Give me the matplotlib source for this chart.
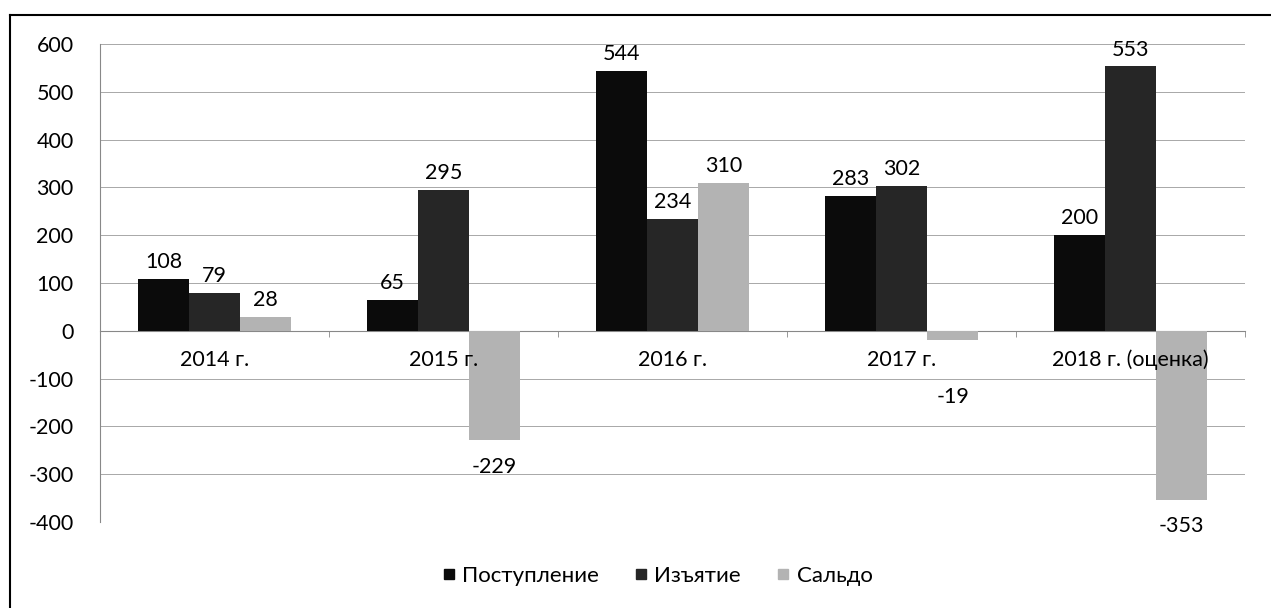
import matplotlib
matplotlib.use("Agg")
import matplotlib.pyplot as plt
import numpy as np
from matplotlib.lines import Line2D

plt.rcParams['font.family'] = ['Lato', 'DejaVu Sans']
plt.rcParams['axes.unicode_minus'] = False

categories = ["2014 г.", "2015 г.", "2016 г.", "2017 г.", "2018 г. (оценка)"]
series_names = ["Поступление", "Изъятие", "Сальдо"]
postuplenie = [108, 65, 544, 283, 200]
izyatie = [79, 295, 234, 302, 553]
saldo = [28, -229, 310, -19, -353]
yticks = [-400, -300, -200, -100, 0, 100, 200, 300, 400, 500, 600]

colors = ["#0b0b0b", "#262626", "#b3b3b3"]
series = [postuplenie, izyatie, saldo]

FS = 15.5
fig = plt.figure(figsize=(12.71, 6.08), dpi=100)
ax = fig.add_axes([100/1271, 1-522/608, 1145/1271, (522-44)/608])

x = np.arange(len(categories))
bw = 0.223
for i, (vals, col, name) in enumerate(zip(series, colors, series_names)):
    pos = x + (i - 1) * bw
    ax.bar(pos, vals, bw, color=col, label=name, zorder=3)
    for p, v in zip(pos, vals):
        if v >= 0:
            off, va = 5, "bottom"
        else:
            off, va = (-34 if v > -50 else -12), "top"
        ax.annotate(str(v), (p, v), xytext=(0, off), textcoords="offset points",
                    ha="center", va=va, fontsize=FS, zorder=6)

# category labels next to the zero axis, drawn above the bars
for xi, lab in zip(x, categories):
    ax.annotate(lab, (xi, 0), xytext=(0, -21), textcoords="offset points",
                ha="center", va="center", fontsize=FS, zorder=7)

ax.set_xlim(-0.5, len(categories) - 0.5)
ax.set_ylim(-400, 600)
ax.set_yticks(yticks)
ax.tick_params(axis='y', length=0, labelsize=FS, pad=19)
ax.grid(axis='y', color='#a8a8a8', lw=0.7, zorder=0)

ax.spines['top'].set_visible(False)
ax.spines['right'].set_visible(False)
ax.spines['left'].set_color('#888888')
ax.spines['left'].set_linewidth(0.8)
ax.spines['bottom'].set_position(('data', 0))
ax.spines['bottom'].set_color('#888888')
ax.spines['bottom'].set_linewidth(0.8)

ax.set_xticks(x)
ax.set_xticklabels([])
ax.tick_params(axis='x', length=0)
ax.set_xticks(np.arange(len(categories) + 1) - 0.5, minor=True)
ax.tick_params(axis='x', which='minor', length=4, color='#888888')

handles = [Line2D([], [], marker='s', ls='', color=c, markersize=7) for c in colors]
fig.legend(handles, series_names, loc='center', bbox_to_anchor=(655/1271, 1-576/608),
           ncol=3, frameon=False, fontsize=16, handletextpad=0.1, columnspacing=1.4,
           handlelength=1.0)

# outer frame (left and top)
fig.add_artist(Line2D([10/1271, 10/1271], [0, 1-15/608], color='black', lw=1.5, transform=fig.transFigure))
fig.add_artist(Line2D([10/1271, 1], [1-15/608, 1-15/608], color='black', lw=1.5, transform=fig.transFigure))

fig.savefig("out.png", dpi=100)
